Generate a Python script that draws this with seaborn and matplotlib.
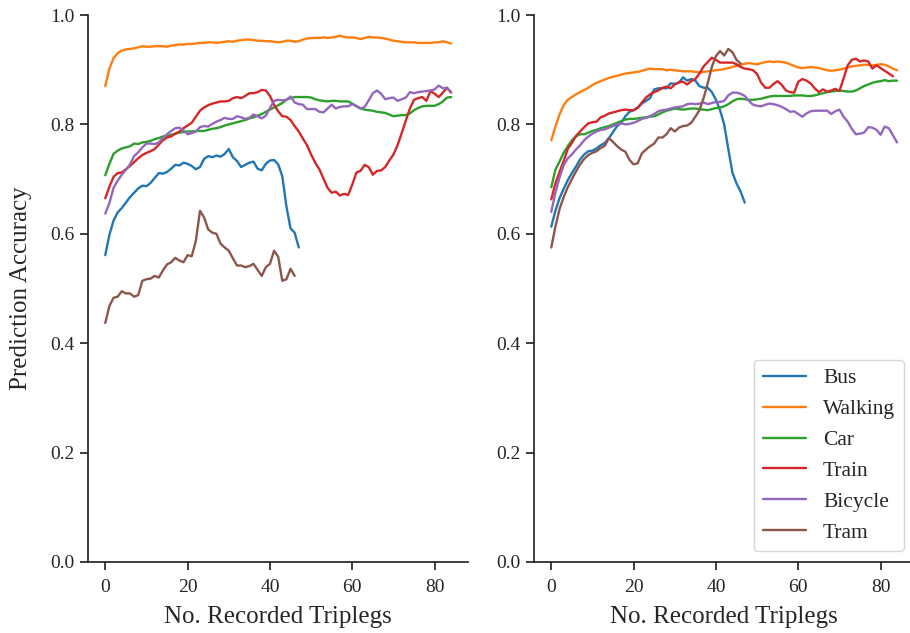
import numpy as np
import pandas as pd
import matplotlib
matplotlib.use("Agg")
import matplotlib.pyplot as plt
import seaborn as sns

modes = ["Bus", "Walking", "Car", "Train", "Bicycle", "Tram"]

# ---- left panel ----
left_bus = [0.561, 0.598, 0.624, 0.639, 0.647, 0.657, 0.667, 0.675, 0.683, 0.688,
            0.687, 0.693, 0.702, 0.711, 0.710, 0.713, 0.719, 0.726, 0.725, 0.730,
            0.728, 0.724, 0.718, 0.722, 0.737, 0.742, 0.740, 0.743, 0.741, 0.746,
            0.755, 0.740, 0.733, 0.722, 0.726, 0.730, 0.732, 0.719, 0.716, 0.728,
            0.734, 0.735, 0.727, 0.705, 0.650, 0.610, 0.602, 0.575]
left_walking = [0.870, 0.902, 0.921, 0.930, 0.935, 0.937, 0.938, 0.939, 0.941, 0.943,
                0.942, 0.942, 0.943, 0.943, 0.943, 0.942, 0.944, 0.945, 0.946, 0.946,
                0.947, 0.947, 0.948, 0.949, 0.949, 0.950, 0.950, 0.949, 0.950, 0.951,
                0.952, 0.951, 0.953, 0.954, 0.955, 0.955, 0.954, 0.953, 0.953, 0.952,
                0.952, 0.951, 0.950, 0.951, 0.953, 0.953, 0.951, 0.952, 0.955, 0.957,
                0.958, 0.958, 0.958, 0.959, 0.958, 0.959, 0.960, 0.962, 0.960, 0.959,
                0.959, 0.958, 0.956, 0.958, 0.960, 0.959, 0.959, 0.958, 0.957, 0.955,
                0.953, 0.952, 0.951, 0.950, 0.950, 0.950, 0.949, 0.949, 0.949, 0.949,
                0.950, 0.950, 0.952, 0.950, 0.948]
left_car = [0.707, 0.728, 0.746, 0.752, 0.756, 0.758, 0.760, 0.765, 0.764, 0.767,
            0.768, 0.770, 0.773, 0.775, 0.778, 0.779, 0.781, 0.783, 0.785, 0.786,
            0.787, 0.787, 0.788, 0.788, 0.788, 0.790, 0.792, 0.793, 0.795, 0.798,
            0.800, 0.802, 0.804, 0.806, 0.808, 0.811, 0.813, 0.816, 0.819, 0.823,
            0.827, 0.831, 0.835, 0.839, 0.845, 0.848, 0.850, 0.850, 0.850, 0.850,
            0.849, 0.846, 0.844, 0.843, 0.842, 0.843, 0.843, 0.842, 0.842, 0.842,
            0.838, 0.833, 0.829, 0.827, 0.826, 0.825, 0.823, 0.822, 0.821, 0.818,
            0.815, 0.816, 0.817, 0.817, 0.820, 0.826, 0.830, 0.833, 0.834, 0.834,
            0.834, 0.837, 0.842, 0.849, 0.850]
left_train = [0.665, 0.686, 0.704, 0.711, 0.712, 0.718, 0.724, 0.731, 0.738, 0.744,
              0.748, 0.751, 0.755, 0.763, 0.771, 0.776, 0.778, 0.783, 0.787, 0.793,
              0.798, 0.803, 0.814, 0.825, 0.831, 0.835, 0.838, 0.840, 0.842, 0.842,
              0.843, 0.848, 0.850, 0.848, 0.852, 0.857, 0.857, 0.859, 0.863, 0.862,
              0.852, 0.836, 0.824, 0.815, 0.814, 0.808, 0.797, 0.787, 0.774, 0.762,
              0.745, 0.730, 0.718, 0.701, 0.684, 0.675, 0.677, 0.670, 0.673, 0.671,
              0.690, 0.712, 0.715, 0.726, 0.722, 0.708, 0.715, 0.716, 0.722, 0.734,
              0.745, 0.762, 0.784, 0.807, 0.829, 0.845, 0.848, 0.850, 0.843, 0.861,
              0.856, 0.850, 0.858, 0.867, 0.858]
left_bicycle = [0.637, 0.656, 0.684, 0.697, 0.708, 0.717, 0.727, 0.742, 0.749, 0.758,
                0.765, 0.765, 0.764, 0.767, 0.775, 0.782, 0.788, 0.793, 0.794, 0.789,
                0.782, 0.784, 0.787, 0.795, 0.797, 0.796, 0.801, 0.805, 0.808, 0.812,
                0.810, 0.810, 0.815, 0.813, 0.810, 0.812, 0.818, 0.815, 0.811, 0.816,
                0.830, 0.843, 0.845, 0.844, 0.845, 0.851, 0.840, 0.837, 0.836, 0.828,
                0.828, 0.828, 0.823, 0.822, 0.829, 0.836, 0.829, 0.832, 0.833, 0.833,
                0.837, 0.834, 0.829, 0.832, 0.844, 0.857, 0.862, 0.856, 0.846, 0.848,
                0.849, 0.843, 0.846, 0.849, 0.859, 0.857, 0.859, 0.860, 0.861, 0.862,
                0.864, 0.871, 0.866, 0.867, 0.859]
left_tram = [0.437, 0.468, 0.483, 0.485, 0.495, 0.491, 0.491, 0.485, 0.488, 0.514,
             0.517, 0.518, 0.523, 0.520, 0.533, 0.544, 0.548, 0.556, 0.551, 0.548,
             0.561, 0.559, 0.587, 0.642, 0.630, 0.608, 0.602, 0.600, 0.582, 0.575,
             0.569, 0.555, 0.542, 0.542, 0.539, 0.541, 0.545, 0.534, 0.523, 0.539,
             0.545, 0.569, 0.558, 0.514, 0.517, 0.536, 0.523]

# ---- right panel ----
right_bus = [0.613, 0.642, 0.665, 0.682, 0.698, 0.711, 0.723, 0.736, 0.745, 0.751,
             0.752, 0.756, 0.762, 0.766, 0.775, 0.786, 0.797, 0.803, 0.815, 0.823,
             0.826, 0.831, 0.838, 0.843, 0.848, 0.864, 0.866, 0.866, 0.866, 0.875,
             0.874, 0.876, 0.886, 0.880, 0.883, 0.880, 0.870, 0.867, 0.867, 0.859,
             0.845, 0.826, 0.800, 0.755, 0.712, 0.692, 0.677, 0.657]
right_walking = [0.771, 0.796, 0.818, 0.835, 0.845, 0.850, 0.855, 0.859, 0.863, 0.867,
                 0.872, 0.876, 0.879, 0.882, 0.885, 0.887, 0.889, 0.891, 0.893, 0.894,
                 0.895, 0.896, 0.898, 0.900, 0.902, 0.901, 0.901, 0.901, 0.899, 0.900,
                 0.899, 0.898, 0.897, 0.897, 0.897, 0.896, 0.895, 0.896, 0.897, 0.898,
                 0.899, 0.900, 0.901, 0.903, 0.905, 0.907, 0.909, 0.911, 0.912, 0.911,
                 0.910, 0.912, 0.914, 0.915, 0.914, 0.915, 0.914, 0.913, 0.910, 0.907,
                 0.904, 0.903, 0.904, 0.905, 0.904, 0.903, 0.901, 0.899, 0.898, 0.899,
                 0.900, 0.902, 0.904, 0.906, 0.907, 0.908, 0.909, 0.909, 0.908, 0.909,
                 0.910, 0.909, 0.906, 0.902, 0.899]
right_car = [0.685, 0.717, 0.732, 0.748, 0.760, 0.771, 0.778, 0.782, 0.782, 0.785,
             0.788, 0.790, 0.793, 0.795, 0.797, 0.800, 0.803, 0.806, 0.809, 0.810,
             0.810, 0.811, 0.812, 0.813, 0.814, 0.815, 0.818, 0.822, 0.825, 0.827,
             0.829, 0.828, 0.827, 0.828, 0.829, 0.829, 0.828, 0.827, 0.826, 0.828,
             0.830, 0.831, 0.833, 0.837, 0.842, 0.846, 0.847, 0.846, 0.845, 0.845,
             0.846, 0.847, 0.849, 0.851, 0.852, 0.852, 0.852, 0.852, 0.852, 0.853,
             0.853, 0.853, 0.852, 0.852, 0.853, 0.855, 0.857, 0.859, 0.860, 0.861,
             0.862, 0.861, 0.860, 0.860, 0.862, 0.866, 0.870, 0.873, 0.876, 0.878,
             0.879, 0.881, 0.879, 0.880, 0.880]
right_train = [0.663, 0.692, 0.713, 0.733, 0.755, 0.766, 0.779, 0.787, 0.795, 0.802,
               0.804, 0.805, 0.813, 0.816, 0.820, 0.822, 0.824, 0.826, 0.827, 0.826,
               0.826, 0.830, 0.840, 0.849, 0.855, 0.859, 0.862, 0.867, 0.869, 0.866,
               0.873, 0.877, 0.878, 0.873, 0.879, 0.883, 0.893, 0.906, 0.914, 0.922,
               0.918, 0.913, 0.913, 0.913, 0.913, 0.910, 0.905, 0.902, 0.901, 0.899,
               0.892, 0.876, 0.867, 0.867, 0.874, 0.879, 0.872, 0.862, 0.859, 0.858,
               0.878, 0.883, 0.880, 0.875, 0.866, 0.859, 0.864, 0.860, 0.862, 0.865,
               0.861, 0.884, 0.908, 0.918, 0.920, 0.915, 0.917, 0.915, 0.902, 0.908,
               0.903, 0.898, 0.893, 0.888]
right_bicycle = [0.640, 0.675, 0.703, 0.725, 0.738, 0.745, 0.754, 0.762, 0.771, 0.778,
                 0.783, 0.787, 0.790, 0.791, 0.794, 0.797, 0.800, 0.802, 0.800, 0.801,
                 0.803, 0.806, 0.810, 0.812, 0.815, 0.819, 0.824, 0.826, 0.827, 0.829,
                 0.831, 0.832, 0.833, 0.837, 0.838, 0.837, 0.838, 0.840, 0.837, 0.839,
                 0.841, 0.841, 0.843, 0.853, 0.858, 0.858, 0.856, 0.852, 0.843, 0.836,
                 0.834, 0.833, 0.836, 0.838, 0.837, 0.835, 0.832, 0.828, 0.823, 0.824,
                 0.819, 0.814, 0.820, 0.824, 0.825, 0.825, 0.825, 0.825, 0.819, 0.824,
                 0.827, 0.814, 0.805, 0.792, 0.782, 0.783, 0.785, 0.795, 0.794, 0.790,
                 0.781, 0.796, 0.793, 0.780, 0.767]
right_tram = [0.575, 0.613, 0.645, 0.667, 0.685, 0.700, 0.714, 0.727, 0.737, 0.744,
              0.748, 0.751, 0.757, 0.761, 0.775, 0.768, 0.760, 0.754, 0.750, 0.735,
              0.727, 0.729, 0.747, 0.754, 0.760, 0.765, 0.776, 0.776, 0.782, 0.793,
              0.787, 0.794, 0.797, 0.798, 0.803, 0.814, 0.826, 0.848, 0.875, 0.905,
              0.925, 0.934, 0.926, 0.938, 0.932, 0.918, 0.911]

x_ticks = [0, 20, 40, 60, 80]
y_ticks = [0.0, 0.2, 0.4, 0.6, 0.8, 1.0]


def long_frame(series):
    parts = []
    for mode, values in zip(modes, series):
        parts.append(pd.DataFrame({"triplegs": np.arange(len(values)),
                                   "accuracy": values,
                                   "mode": mode}))
    return pd.concat(parts, ignore_index=True)


left_df = long_frame([left_bus, left_walking, left_car, left_train, left_bicycle, left_tram])
right_df = long_frame([right_bus, right_walking, right_car, right_train, right_bicycle, right_tram])

sns.set_theme(style="ticks")
plt.rcParams["font.family"] = ["Liberation Serif", "DejaVu Serif"]
plt.rcParams["text.color"] = "#262626"
plt.rcParams["axes.labelcolor"] = "#262626"
plt.rcParams["xtick.color"] = "#262626"
plt.rcParams["ytick.color"] = "#262626"

palette = sns.color_palette("tab10", len(modes))

fig = plt.figure(figsize=(9.1, 6.33), dpi=100)
ax_l = fig.add_axes([0.0967, 0.1122, 0.4180, 0.8641])
ax_r = fig.add_axes([0.5868, 0.1122, 0.4180, 0.8641])

for ax, df in ((ax_l, left_df), (ax_r, right_df)):
    sns.lineplot(data=df, x="triplegs", y="accuracy", hue="mode",
                 hue_order=modes, palette=palette, errorbar=None,
                 linewidth=1.7, ax=ax, legend=(ax is ax_r))
    ax.set_ylim(0, 1.0)
    ax.set_xlim(-4.2, 88.2)
    ax.set_xticks(x_ticks)
    ax.set_yticks(y_ticks)
    ax.set_yticklabels([f"{v:.1f}" for v in y_ticks])
    ax.tick_params(labelsize=14, length=6, width=1.25)
    ax.tick_params(axis="x", pad=6.5)
    ax.set_xlabel("No. Recorded Triplegs", fontsize=18, labelpad=7)
    ax.set_ylabel("")
    for side in ("left", "bottom"):
        ax.spines[side].set_linewidth(1.25)
        ax.spines[side].set_color("#262626")
    sns.despine(ax=ax)

ax_l.set_ylabel("Prediction Accuracy", fontsize=18, labelpad=13)

handles, labels = ax_r.get_legend_handles_labels()
ax_r.legend(handles, labels, loc="lower right", fontsize=15.5,
            frameon=True)

fig.savefig("out.png", dpi=100)
